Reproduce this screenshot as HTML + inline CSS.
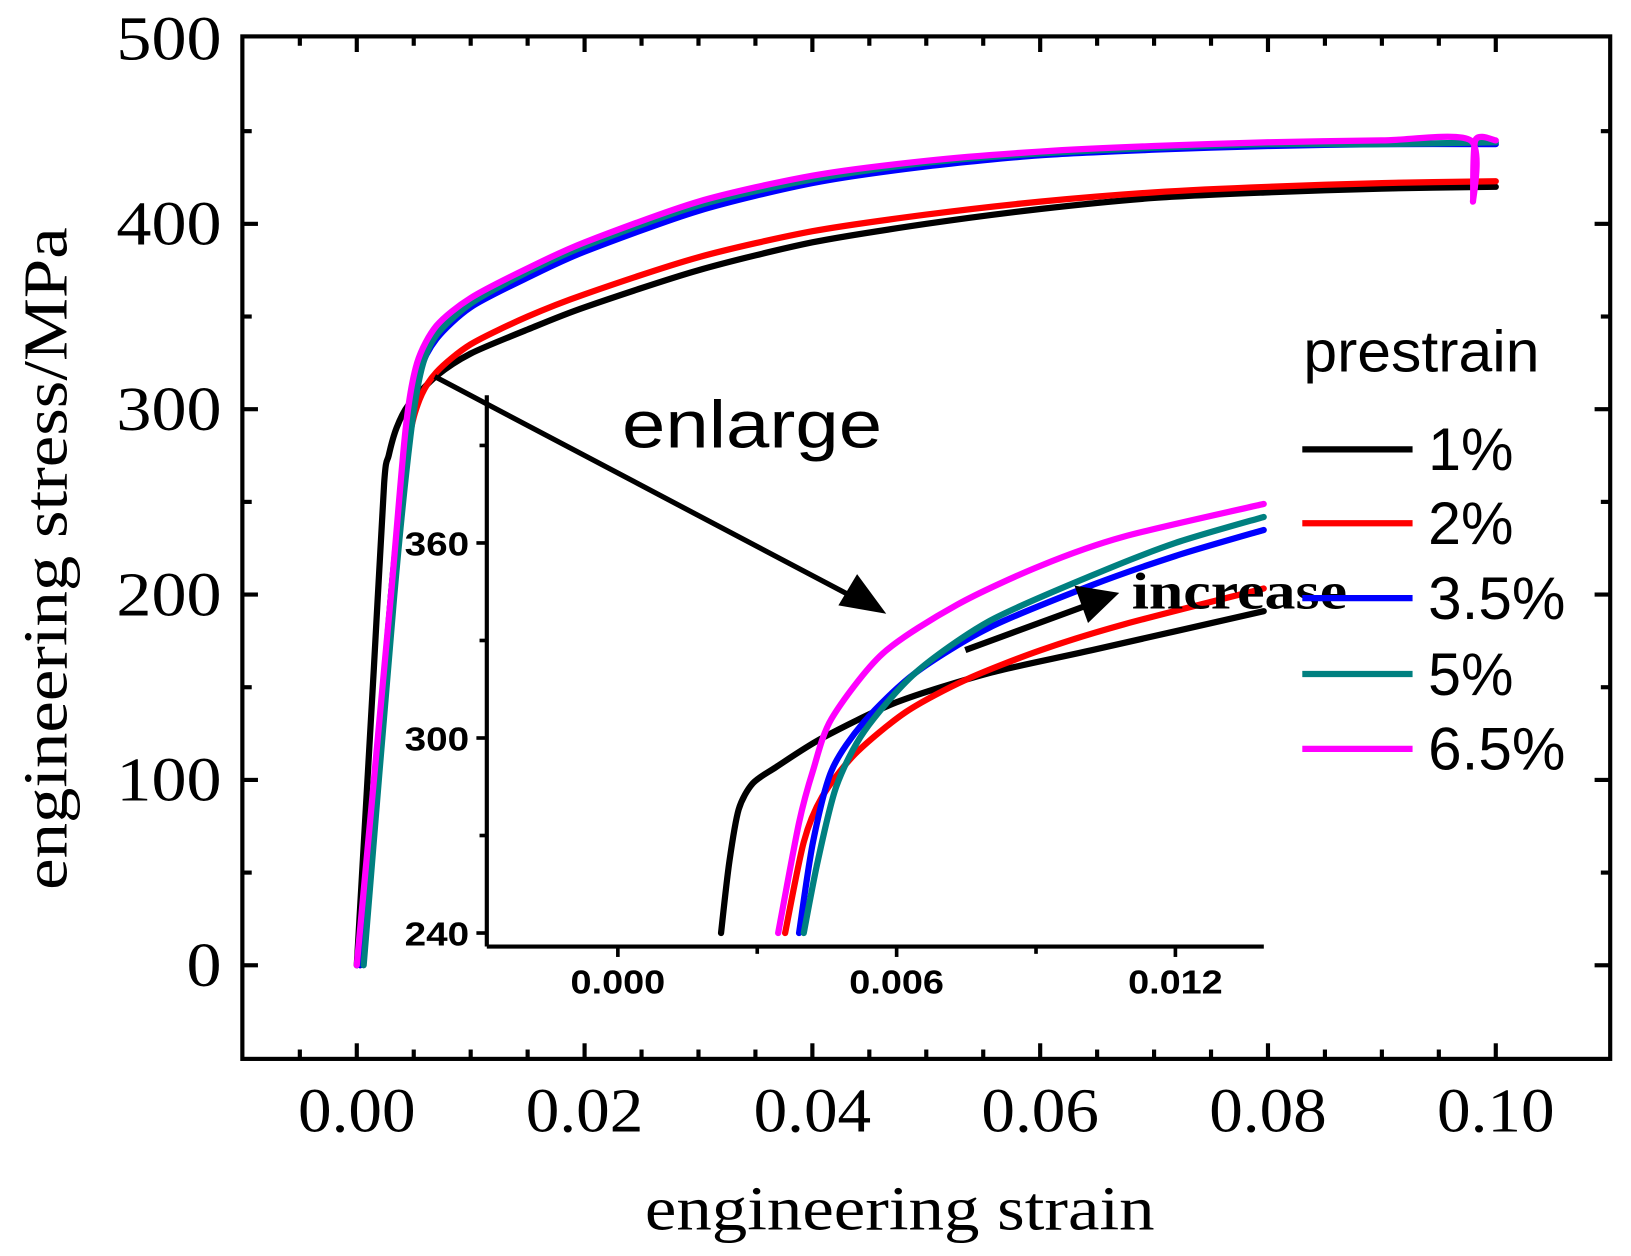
<!DOCTYPE html>
<html><head><meta charset="utf-8"><style>
html,body{margin:0;padding:0;background:#fff;}
svg{display:block;}
</style></head><body>
<svg id="chart" width="1631" height="1256" viewBox="0 0 1568 1207.5" preserveAspectRatio="none" xmlns="http://www.w3.org/2000/svg">
<g id="main"></g>
<g id="inset"></g>
<g id="annot"></g>
</svg>
<script>
// ---- main chart data ----
const seriesNames = ["1%","2%","3.5%","5%","6.5%"];
const seriesColors = ["#000000","#ff0000","#0000ff","#008080","#ff00ff"];
const xTicks = [0,0.02,0.04,0.06,0.08,0.10];
const xTickLabels = ["0.00","0.02","0.04","0.06","0.08","0.10"];
const yTicks = [0,100,200,300,400,500];
const yTickLabels = ["0","100","200","300","400","500"];
const s1x = [0,0.0015,0.0024,0.0028,0.0035,0.0045,0.007,0.01,0.015,0.02,0.03,0.04,0.05,0.06,0.07,0.08,0.09,0.1];
const s1y = [0,160,260,275,290,302,318,330,343,355,375,390,400,408,414,417,419,420];
const s2x = [0.0003,0.003,0.0045,0.0055,0.007,0.01,0.015,0.02,0.03,0.04,0.05,0.06,0.07,0.08,0.09,0.1];
const s2y = [0,200,280,305,320,335,350,362,382,396,405,412,417,420,422,423];
const s3x = [0.0003,0.003,0.0045,0.0055,0.007,0.01,0.015,0.02,0.03,0.04,0.05,0.06,0.07,0.08,0.09,0.1];
const s3y = [0,200,285,320,338,355,371,385,407,422,431,437,440,442,443,443];
const s4x = [0.0006,0.0033,0.0047,0.0057,0.007,0.01,0.015,0.02,0.03,0.04,0.05,0.06,0.07,0.08,0.09,0.1];
const s4y = [0,200,285,322,340,357,374,388,410,424,433,438,441,443,443,444];
const s5x = [0,0.003,0.0043,0.0053,0.007,0.01,0.015,0.02,0.03,0.04,0.05,0.06,0.07,0.08,0.09,0.0978,0.098,0.0982,0.1];
const s5y = [0,200,290,325,345,360,376,390,412,426,434,439,442,444,445,445,412,445,445];
// ---- inset data ----
const insetXTicks = [0,0.006,0.012];
const insetXTickLabels = ["0.000","0.006","0.012"];
const insetYTicks = [240,300,360];
const insetYTickLabels = ["240","300","360"];
const i1x = [0.00222,0.0024,0.0026,0.0029,0.0034,0.0044,0.006,0.008,0.0102,0.0139];
const i1y = [240,262,278,286,291,300,311,320,327,339];
const i2x = [0.0036,0.0040,0.0044,0.0051,0.0062,0.0075,0.0091,0.0109,0.0139];
const i2y = [240,268,282,295,308,318,327,335,346];
const i3x = [0.0039,0.0042,0.0046,0.0053,0.0064,0.008,0.0102,0.012,0.0139];
const i3y = [240,268,290,305,320,334,347,356,364];
const i4x = [0.0040,0.0043,0.0047,0.0053,0.0064,0.008,0.0102,0.012,0.0139];
const i4y = [240,262,285,302,320,336,350,360,368];
const i5x = [0.00345,0.0039,0.0042,0.0046,0.0057,0.0073,0.0091,0.0109,0.0139];
const i5y = [240,274,290,306,326,341,353,362,372];

const NS="http://www.w3.org/2000/svg";
function mk(tag,attrs,parent){const e=document.createElementNS(NS,tag);for(const k in attrs)e.setAttribute(k,attrs[k]);parent.appendChild(e);return e;}
function txt(parent,x,y,s,attrs,len){const t=mk('text',Object.assign({x:x,y:y},attrs),parent);t.textContent=s;if(len){t.setAttribute('textLength',len);t.setAttribute('lengthAdjust','spacingAndGlyphs');}return t;}

const L=233,R=1548,T=35,B=1018;
const X=v=>343+(v-0)/0.1*1095;
const Y=v=>928-v*1.782;
const main=document.getElementById('main');
const frame=mk('rect',{x:L,y:T,width:R-L,height:B-T,fill:'none',stroke:'#000','stroke-width':4},main);


for(let i=0;i<=22;i++){const v=-0.01+i*0.005;const px=X(v);if(px<=L+2||px>=R-2)continue;const major=Math.abs(Math.round(v/0.02)*0.02-v)<1e-9;const len=major?15:9;
 mk('line',{x1:px,y1:B,x2:px,y2:B-len,stroke:'#000','stroke-width':4},main);
 mk('line',{x1:px,y1:T,x2:px,y2:T+len,stroke:'#000','stroke-width':4},main);}
xTicks.forEach((v,i)=>{const t=txt(main,X(v),1088,xTickLabels[i],{'text-anchor':'middle','font-family':'Liberation Serif, serif','font-size':60},113);
 
 });
for(let v=-50;v<=500;v+=50){const py=Y(v);if(py>=B-2||py<=T+2)continue;const major=v%100===0;const len=major?15:9;
 mk('line',{x1:L,y1:py,x2:L+len,y2:py,stroke:'#000','stroke-width':4},main);
 mk('line',{x1:R,y1:py,x2:R-len,y2:py,stroke:'#000','stroke-width':4},main);}
yTicks.forEach((v,i)=>{const t=txt(main,213,Y(v)+20,yTickLabels[i],{'text-anchor':'end','font-family':'Liberation Serif, serif','font-size':60},yTickLabels[i].length*33.7);
 
 });
const xt=txt(main,865,1182,'engineering strain',{'text-anchor':'middle','font-family':'Liberation Serif, serif','font-size':60},490);


const yt=txt(main,0,0,'engineering stress/MPa',{'text-anchor':'middle','font-family':'Liberation Serif, serif','font-size':60,transform:'translate(64,537) rotate(-90)'},637);



function drawLine(xs,ys,fx,fy,color,parent,name,w){
 const p=xs.map((x,i)=>[fx(x),fy(ys[i])]);
 let d='M'+p[0][0].toFixed(1)+','+p[0][1].toFixed(1);
 for(let i=0;i<p.length-1;i++){const p0=p[Math.max(0,i-1)],p1=p[i],p2=p[i+1],p3=p[Math.min(p.length-1,i+2)];const k=1/6*0.8;
  const c1=[p1[0]+(p2[0]-p0[0])*k,p1[1]+(p2[1]-p0[1])*k],c2=[p2[0]-(p3[0]-p1[0])*k,p2[1]-(p3[1]-p1[1])*k];
  d+=' C'+c1.map(v=>v.toFixed(1)).join(',')+' '+c2.map(v=>v.toFixed(1)).join(',')+' '+p2.map(v=>v.toFixed(1)).join(',');}
 const el=mk('path',{d:d,fill:'none',stroke:color,'stroke-width':w,'stroke-linejoin':'round','stroke-linecap':'round'},parent);
 
 }
const mainX=[s1x,s2x,s3x,s4x,s5x],mainY=[s1y,s2y,s3y,s4y,s5y];
for(let i=0;i<5;i++)drawLine(mainX[i],mainY[i],X,Y,seriesColors[i],main,'curve-'+seriesNames[i].replace('%','pct').replace('.','-'),6);

// inset
const inset=document.getElementById('inset');
const IL=468,IB=910,IR=1215,IT=380;
const IX=v=>594+v/0.006*268;
const IY=v=>897-(v-240)/60*187.5;
for(let i=0;i<5;i++)drawLine([i1x,i2x,i3x,i4x,i5x][i],[i1y,i2y,i3y,i4y,i5y][i],IX,IY,seriesColors[i],inset,'inset-curve-'+seriesNames[i].replace('%','pct').replace('.','-'),6);
mk('line',{x1:IL,y1:IT,x2:IL,y2:IB,stroke:'#000','stroke-width':4},inset);
mk('line',{x1:IL,y1:IB,x2:IR,y2:IB,stroke:'#000','stroke-width':4},inset);
for(let v=240;v<=400;v+=30){const py=IY(v);if(py<IT)continue;const major=(v-240)%60===0;mk('line',{x1:IL,y1:py,x2:IL-(major?10:7),y2:py,stroke:'#000','stroke-width':3.5},inset);}
for(let v=-0.003;v<=0.0135;v+=0.003){const px=IX(v);if(px<IL+2)continue;mk('line',{x1:px,y1:IB,x2:px,y2:IB+(Math.abs(Math.round(v/0.006)*0.006-v)<1e-9?10:7),stroke:'#000','stroke-width':3.5},inset);}
insetYTicks.forEach((v,i)=>{const t=txt(inset,451,IY(v)+12,insetYTickLabels[i],{'text-anchor':'end','font-family':'Liberation Sans, sans-serif','font-weight':'bold','font-size':32},62);
 
 });
insetXTicks.forEach((v,i)=>{const t=txt(inset,IX(v),955,insetXTickLabels[i],{'text-anchor':'middle','font-family':'Liberation Sans, sans-serif','font-weight':'bold','font-size':32},91);
 
 });

// annotations & legend
const an=document.getElementById('annot');
const a1=mk('line',{x1:418,y1:362,x2:822,y2:575,stroke:'#000','stroke-width':5},an);


mk('path',{d:'M852,590 L806,582 L824,552 Z',fill:'#000'},an);
const en=txt(an,598,430,'enlarge',{'font-family':'Liberation Sans, sans-serif','font-size':64},250);


const a2=mk('line',{x1:928,y1:625,x2:1045,y2:582,stroke:'#000','stroke-width':6},an);


mk('path',{d:'M1076,570 L1033,563 L1046,599 Z',fill:'#000'},an);
const inc=txt(an,1088,585,'increase',{'font-family':'Liberation Serif, serif','font-weight':'bold','font-size':50},207);


const lt=txt(an,1253,357,'prestrain',{'font-family':'Liberation Sans, sans-serif','font-size':56},227);


const ly=[432,503,575,648,720];
const lw=[82,82,132,82,132];
seriesNames.forEach((n,i)=>{const g=mk('g',{},an);
 
 
 mk('line',{x1:1252,y1:ly[i],x2:1358,y2:ly[i],stroke:seriesColors[i],'stroke-width':6},g);
 txt(g,1373,ly[i]+20,n,{'font-family':'Liberation Sans, sans-serif','font-size':58},lw[i]);});
</script>
</body></html>
